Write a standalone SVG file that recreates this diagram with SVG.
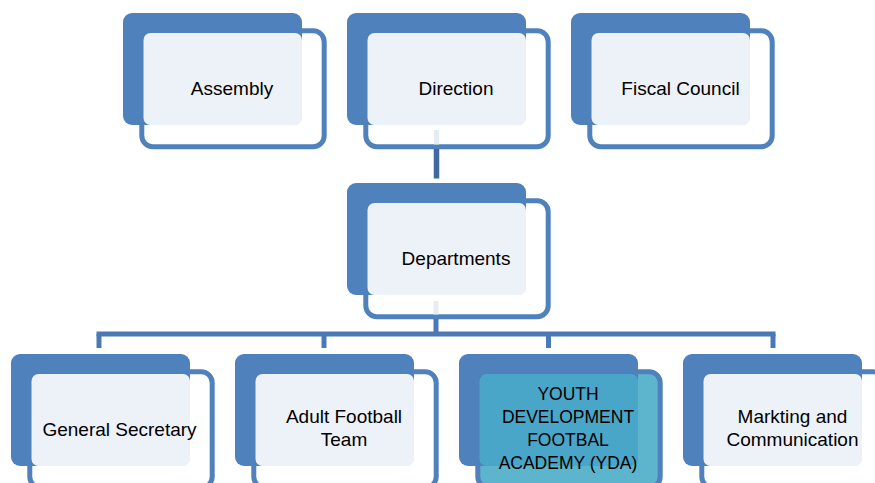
<svg xmlns="http://www.w3.org/2000/svg" width="875" height="483" viewBox="0 0 875 483">
<defs>
<style>
.bk{fill:#4f81bd}
.ol{fill:#ffffff;stroke:#4f81bd;stroke-width:5}
.lt{fill:#edf1f8}
.ydo{fill:#5cb4cd;stroke:#4f81bd;stroke-width:5}
.ydl{fill:#4aa6c8}
.t{font-family:"Liberation Sans",Arial,sans-serif;font-size:19px;fill:#000;text-anchor:middle}
.ty{font-family:"Liberation Sans",Arial,sans-serif;font-size:17.5px;fill:#000;text-anchor:middle}
.cn{fill:none;stroke:#4a79b5;stroke-width:5}
.cd{fill:none;stroke:#3f6a9e;stroke-width:5.5}
.cl{fill:none;stroke:#e6ecf5;stroke-width:5}
</style>
</defs>
<rect width="875" height="483" fill="#ffffff"/>

<g id="assembly">
<rect class="ol" x="141.8" y="30.8" width="182.4" height="116" rx="11"/>
<rect class="bk" x="123" y="13" width="179" height="112" rx="9"/>
<rect class="lt" x="143.5" y="33" width="158.5" height="92" rx="7"/>
<text class="t" x="232" y="94.5">Assembly</text>
</g>

<g id="direction">
<rect class="ol" x="365.8" y="30.8" width="182.4" height="116" rx="11"/>
<rect class="bk" x="347" y="13" width="179" height="112" rx="9"/>
<rect class="lt" x="367.5" y="33" width="158.5" height="92" rx="7"/>
<text class="t" x="456" y="94.5">Direction</text>
</g>

<g id="fiscal-council">
<rect class="ol" x="589.8" y="30.8" width="182.4" height="116" rx="11"/>
<rect class="bk" x="571" y="13" width="179" height="112" rx="9"/>
<rect class="lt" x="591.5" y="33" width="158.5" height="92" rx="7"/>
<text class="t" x="680.5" y="94.5">Fiscal Council</text>
</g>

<g id="departments">
<rect class="ol" x="365.8" y="200.8" width="182.4" height="116" rx="11"/>
<rect class="bk" x="347" y="183" width="179" height="112" rx="9"/>
<rect class="lt" x="367.5" y="203" width="158.5" height="92" rx="7"/>
<text class="t" x="456" y="264.5">Departments</text>
</g>

<g id="general-secretary">
<rect class="ol" x="29.8" y="371.8" width="182.4" height="116" rx="11"/>
<rect class="bk" x="11" y="354" width="179" height="112" rx="9"/>
<rect class="lt" x="31.5" y="374" width="158.5" height="92" rx="7"/>
<text class="t" x="119.5" y="435.5">General Secretary</text>
</g>

<g id="adult-football-team">
<rect class="ol" x="253.8" y="371.8" width="182.4" height="116" rx="11"/>
<rect class="bk" x="235" y="354" width="179" height="112" rx="9"/>
<rect class="lt" x="255.5" y="374" width="158.5" height="92" rx="7"/>
<text class="t" x="344" y="422.5">Adult Football</text>
<text class="t" x="344" y="446">Team</text>
</g>

<g id="yda">
<rect class="ydo" x="477.8" y="371.8" width="182.4" height="116" rx="11"/>
<rect class="bk" x="459" y="354" width="179" height="112" rx="9"/>
<rect class="ydl" x="479.5" y="374" width="158.5" height="92" rx="7"/>
<text class="ty" x="568" y="400">YOUTH</text>
<text class="ty" x="568" y="423">DEVELOPMENT</text>
<text class="ty" x="568" y="446">FOOTBAL</text>
<text class="ty" x="568" y="469">ACADEMY (YDA)</text>
</g>

<g id="marketing">
<rect class="ol" x="701.8" y="371.8" width="182.4" height="116" rx="11"/>
<rect class="bk" x="683" y="354" width="179" height="112" rx="9"/>
<rect class="lt" x="703.5" y="374" width="158.5" height="92" rx="7"/>
<text class="t" x="792.5" y="422.5">Markting and</text>
<text class="t" x="792.5" y="446">Communication</text>
</g>

<g id="connectors">
<line class="cl" x1="436.5" y1="130" x2="436.5" y2="144.5"/>
<line class="cd" x1="436.5" y1="149" x2="436.5" y2="178.5"/>
<line class="cl" x1="436" y1="301" x2="436" y2="314.5"/>
<line class="cn" x1="436" y1="319" x2="436" y2="334"/>
<line class="cn" x1="96.5" y1="334" x2="775.5" y2="334"/>
<line class="cn" x1="99" y1="334" x2="99" y2="348"/>
<line class="cn" x1="324" y1="334" x2="324" y2="348"/>
<line class="cn" x1="548.5" y1="334" x2="548.5" y2="348"/>
<line class="cn" x1="773" y1="334" x2="773" y2="348"/>
</g>
</svg>
